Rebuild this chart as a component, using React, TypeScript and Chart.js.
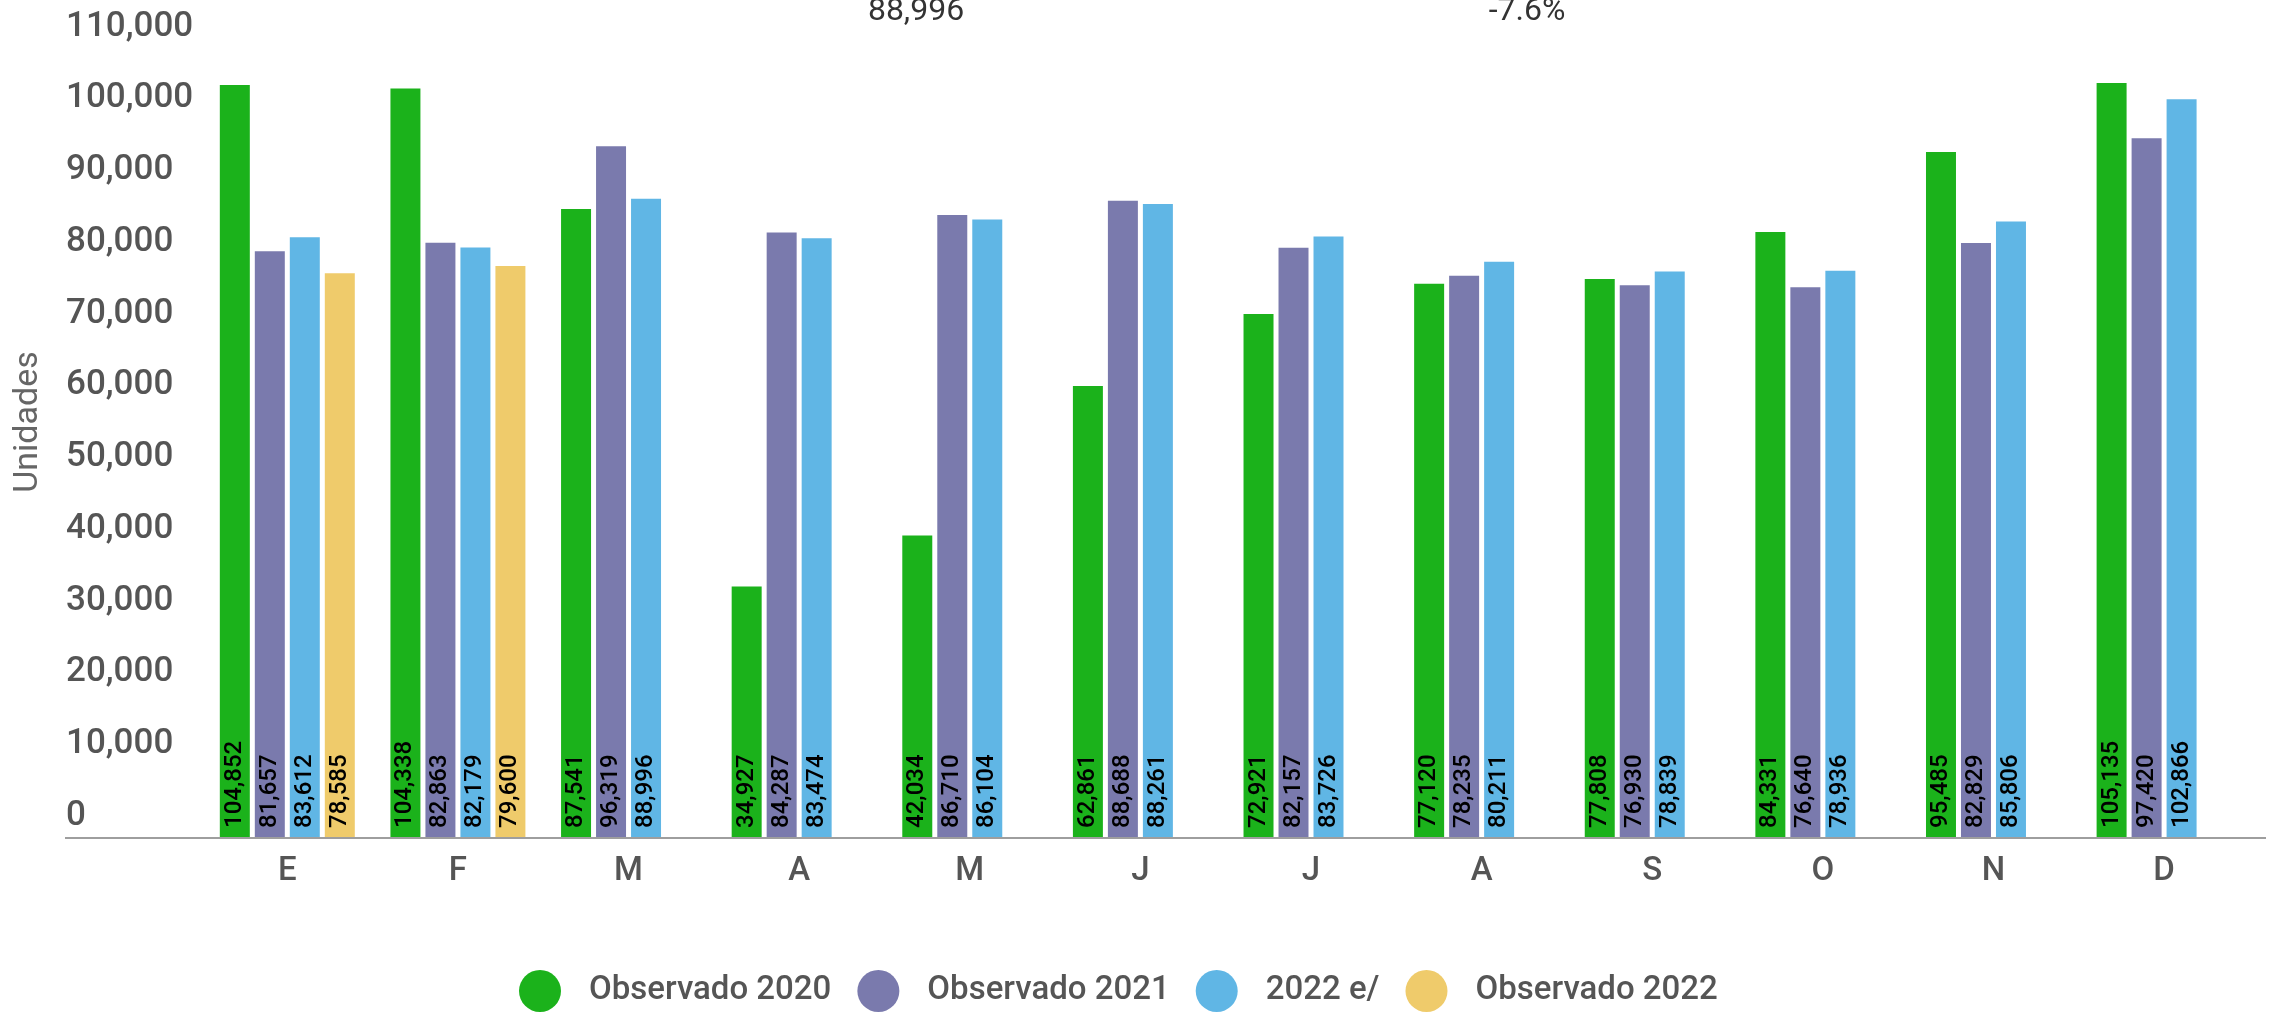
import React, { useEffect, useRef } from "react";
import { Chart, registerables } from "chart.js";

Chart.register(...registerables);

// ---- Data ----
const months = ["E", "F", "M", "A", "M", "J", "J", "A", "S", "O", "N", "D"];
const observado2020 = [104852, 104338, 87541, 34927, 42034, 62861, 72921, 77120, 77808, 84331, 95485, 105135];
const observado2021 = [81657, 82863, 96319, 84287, 86710, 88688, 82157, 78235, 76930, 76640, 82829, 97420];
const estimado2022 = [83612, 82179, 88996, 83474, 86104, 88261, 83726, 80211, 78839, 78936, 85806, 102866];
const observado2022 = [78585, 79600, null, null, null, null, null, null, null, null, null, null];
const seriesNames = ["Observado 2020", "Observado 2021", "2022 e/", "Observado 2022"];
const seriesColors = ["#1BB21B", "#7A7AAD", "#60B6E5", "#EFCB6B"];
const headerTexts = ["88,996", "-7.6%"];
const yAxisTitle = "Unidades";
const yMin = 0;
const yMax = 110000;
const yStep = 10000;

const FONT = "Roboto";
const fmt = (v: number) => Number(v).toLocaleString("en-US");

const barLabelsPlugin = {
  id: "barLabels",
  afterDatasetsDraw(chart: any) {
    const ctx = chart.ctx;
    ctx.save();
    ctx.font = `500 24px ${FONT}`;
    ctx.fillStyle = "#000";
    ctx.textAlign = "left";
    ctx.textBaseline = "middle";
    chart.data.datasets.forEach((ds: any, i: number) => {
      const meta = chart.getDatasetMeta(i);
      meta.data.forEach((bar: any, j: number) => {
        const v = ds.data[j];
        if (v == null) return;
        const { x, base } = bar.getProps(["x", "base"], true);
        ctx.save();
        ctx.translate(x, base - 9);
        ctx.rotate(-Math.PI / 2);
        ctx.fillText(fmt(v), 0, 0);
        ctx.restore();
      });
    });
    ctx.restore();
  },
};

const decorPlugin = {
  id: "decor",
  afterDraw(chart: any) {
    const ctx = chart.ctx;
    const area = chart.chartArea;
    ctx.save();
    // axis baseline
    ctx.strokeStyle = "#9E9E9E";
    ctx.lineWidth = 2;
    ctx.beginPath();
    ctx.moveTo(65, area.bottom + 1);
    ctx.lineTo(2266, area.bottom + 1);
    ctx.stroke();

    // y axis title
    ctx.save();
    ctx.translate(28, 422);
    ctx.rotate(-Math.PI / 2);
    ctx.font = `34px ${FONT}`;
    ctx.fillStyle = "#666";
    ctx.textAlign = "center";
    ctx.textBaseline = "middle";
    ctx.fillText(yAxisTitle, 0, 0);
    ctx.restore();

    // header texts (cut at top)
    ctx.font = `32px ${FONT}`;
    ctx.fillStyle = "#333";
    ctx.textAlign = "center";
    ctx.textBaseline = "alphabetic";
    ctx.fillText(headerTexts[0], 916, 20);
    ctx.fillText(headerTexts[1], 1527, 20);

    // legend
    ctx.font = `500 33px ${FONT}`;
    const r = 21;
    const gapText = 28;
    const gapItem = 26;
    const widths = seriesNames.map((n) => ctx.measureText(n).width);
    let x = 519;
    const cy = 991;
    seriesNames.forEach((n, i) => {
      ctx.fillStyle = seriesColors[i];
      ctx.beginPath();
      ctx.arc(x + r, cy, r, 0, Math.PI * 2);
      ctx.fill();
      ctx.fillStyle = "#555";
      ctx.textAlign = "left";
      ctx.textBaseline = "middle";
      ctx.fillText(n, x + 2 * r + gapText, cy);
      x += 2 * r + gapText + widths[i] + gapItem;
    });
    ctx.restore();
  },
};

export default function App() {
  const canvasRef = useRef<HTMLCanvasElement | null>(null);

  useEffect(() => {
    document.body.style.margin = "0";
    const canvas = canvasRef.current;
    if (!canvas) return;
    const allSeries = [observado2020, observado2021, estimado2022, observado2022];
    const chart = new Chart(canvas, {
      type: "bar",
      data: {
        labels: months,
        datasets: allSeries.map((d, i) => ({
          label: seriesNames[i],
          data: d,
          backgroundColor: seriesColors[i],
          borderWidth: 0,
          categoryPercentage: 0.8204,
          barPercentage: 0.857,
        })),
      },
      options: {
        animation: false,
        responsive: false,
        maintainAspectRatio: false,
        layout: { padding: { left: 66, right: 23.6, top: 48, bottom: 0 } },
        plugins: {
          legend: { display: false },
          tooltip: { enabled: false },
          title: { display: false },
        },
        scales: {
          x: {
            offset: true,
            grid: { display: false, drawTicks: false },
            border: { display: false },
            ticks: {
              font: { family: FONT, size: 33, weight: "500" },
              color: "#555",
              padding: 15,
              maxRotation: 0,
              autoSkip: false,
            },
            afterFit: (s: any) => {
              s.height = 175;
            },
          },
          y: {
            min: yMin,
            max: yMax,
            grid: { display: false, drawTicks: false },
            border: { display: false },
            ticks: {
              stepSize: yStep,
              font: { family: FONT, size: 35, weight: "500" },
              color: "#555",
              crossAlign: "far",
              labelOffset: -21,
              padding: 0,
              callback: (v: any) => fmt(v),
            },
            afterFit: (s: any) => {
              s.width = 136;
            },
          },
        },
      },
      plugins: [barLabelsPlugin, decorPlugin],
    } as any);
    return () => chart.destroy();
  }, []);

  return (
    <div style={{ width: 2273, height: 1012, background: "#fff" }}>
      <canvas ref={canvasRef} width={2273} height={1012} style={{ display: "block" }} />
    </div>
  );
}
